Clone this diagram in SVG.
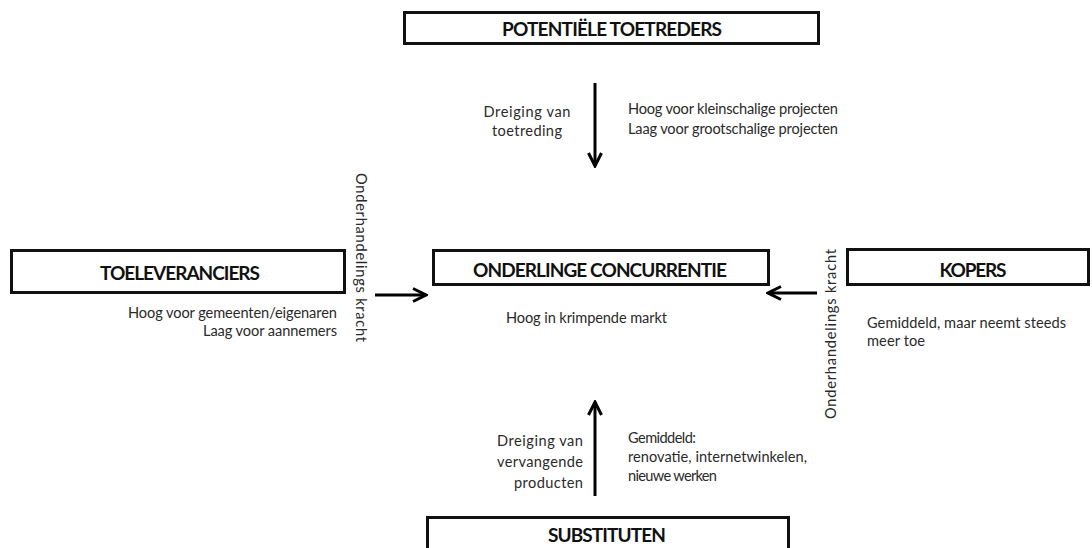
<svg xmlns="http://www.w3.org/2000/svg" width="1092" height="548" viewBox="0 0 1092 548">
  <style>
    .box { fill: #ffffff; stroke: #111111; stroke-width: 3; }
    .title { font-family: Lato, "Liberation Sans", sans-serif; font-weight: bold; font-size: 19px; fill: #111111; text-anchor: middle; }
    .note { font-family: Lato, "Liberation Sans", sans-serif; font-size: 14.6px; fill: #2a2a2a; }
    .side { font-family: Lato, "Liberation Sans", sans-serif; font-size: 14.6px; fill: #2a2a2a; }
    .arrow { stroke: #000000; stroke-width: 3; fill: none; }
  </style>
  <defs>
    <marker id="head" viewBox="0 0 16 16" refX="14" refY="8" markerWidth="16" markerHeight="16" markerUnits="userSpaceOnUse" orient="auto">
      <path d="M1,1.5 L14,8 L1,14.5" fill="none" stroke="#000000" stroke-width="3" stroke-linejoin="miter"/>
    </marker>
  </defs>

  <rect width="1092" height="548" fill="#ffffff"/>

  <g id="potentiele-toetreders">
    <rect class="box" x="404.5" y="12.5" width="414" height="31"/>
    <text class="title" x="612" y="36" textLength="220">POTENTIËLE TOETREDERS</text>
  </g>

  <g id="toeleveranciers">
    <rect class="box" x="11.5" y="250.5" width="333" height="42"/>
    <text class="title" x="180" y="280" textLength="160">TOELEVERANCIERS</text>
    <text class="note" x="337" y="318" text-anchor="end" textLength="209">Hoog voor gemeenten/eigenaren</text>
    <text class="note" x="337" y="336" text-anchor="end" textLength="134">Laag voor aannemers</text>
  </g>

  <g id="onderlinge-concurrentie">
    <rect class="box" x="433.5" y="250.5" width="335" height="34"/>
    <text class="title" x="600" y="277" textLength="254">ONDERLINGE CONCURRENTIE</text>
    <text class="note" x="506" y="323" textLength="161">Hoog in krimpende markt</text>
  </g>

  <g id="kopers">
    <rect class="box" x="847.5" y="249.5" width="241" height="35"/>
    <text class="title" x="973" y="277" textLength="67">KOPERS</text>
    <text class="note" x="867" y="328" textLength="199">Gemiddeld, maar neemt steeds</text>
    <text class="note" x="867" y="346" textLength="58">meer toe</text>
  </g>

  <g id="substituten">
    <rect class="box" x="427.5" y="517.5" width="361" height="40"/>
    <text class="title" x="607" y="542" textLength="118">SUBSTITUTEN</text>
  </g>

  <g id="connectors">
    <line class="arrow" x1="595" y1="83" x2="595" y2="166" marker-end="url(#head)"/>
    <line class="arrow" x1="375" y1="295" x2="426" y2="295" marker-end="url(#head)"/>
    <line class="arrow" x1="817" y1="293" x2="768" y2="293" marker-end="url(#head)"/>
    <line class="arrow" x1="595" y1="496" x2="595" y2="402" marker-end="url(#head)"/>
  </g>

  <g id="connector-labels">
    <text class="note" x="527" y="117" text-anchor="middle" textLength="87">Dreiging van</text>
    <text class="note" x="527" y="136" text-anchor="middle" textLength="70">toetreding</text>
    <text class="note" x="628" y="114" textLength="210">Hoog voor kleinschalige projecten</text>
    <text class="note" x="628" y="134" textLength="210">Laag voor grootschalige projecten</text>

    <text class="side" transform="translate(356,173) rotate(90)" textLength="169">Onderhandelings kracht</text>
    <text class="side" transform="translate(836,419) rotate(-90)" textLength="170">Onderhandelings kracht</text>

    <text class="note" x="583" y="446" text-anchor="end" textLength="86">Dreiging van</text>
    <text class="note" x="583" y="467" text-anchor="end" textLength="86">vervangende</text>
    <text class="note" x="583" y="488" text-anchor="end" textLength="69">producten</text>
    <text class="note" x="628" y="443" textLength="68">Gemiddeld:</text>
    <text class="note" x="628" y="462" textLength="179">renovatie, internetwinkelen,</text>
    <text class="note" x="628" y="481" textLength="89">nieuwe werken</text>
  </g>
</svg>
